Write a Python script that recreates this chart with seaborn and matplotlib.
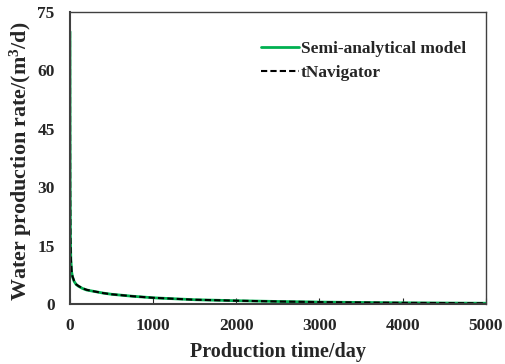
import matplotlib
matplotlib.use("Agg")
import matplotlib.pyplot as plt
import seaborn as sns
import pandas as pd

# Water production rate over time: semi-analytical model vs tNavigator
time_days = [0, 1, 2, 5, 10, 20, 30, 50, 75, 100, 150, 200, 300, 400, 500,
             750, 1000, 1500, 2000, 2500, 3000, 3500, 4000, 4500, 5000]
rate_model = [70.0, 45.0, 30.0, 17.0, 11.5, 8.2, 7.0, 5.8, 5.0, 4.6, 4.0, 3.6,
              3.2, 2.8, 2.5, 2.0, 1.6, 1.1, 0.85, 0.65, 0.5, 0.4, 0.3, 0.25, 0.2]
rate_tnav = [70.0, 44.5, 29.8, 17.2, 11.7, 8.3, 7.1, 5.9, 5.05, 4.65, 4.05, 3.65,
             3.2, 2.8, 2.5, 2.0, 1.6, 1.1, 0.85, 0.65, 0.5, 0.4, 0.3, 0.25, 0.2]

sns.set_theme(style="ticks")
plt.rcParams["font.family"] = ["Liberation Serif", "DejaVu Serif"]
plt.rcParams["font.weight"] = "bold"
plt.rcParams["mathtext.fontset"] = "custom"
plt.rcParams["mathtext.rm"] = "Liberation Serif:bold"
plt.rcParams["mathtext.bf"] = "Liberation Serif:bold"
plt.rcParams["mathtext.it"] = "Liberation Serif:bold"

df = pd.DataFrame({"t": time_days, "model": rate_model, "tnav": rate_tnav})

fig = plt.figure(figsize=(5.05, 3.64), dpi=100)
ax = fig.add_axes([0.1386, 0.1648, 0.8234, 0.802])

sns.lineplot(data=df, x="t", y="model", ax=ax, color="#00b050", lw=2.0,
             label="Semi-analytical model")
sns.lineplot(data=df, x="t", y="tnav", ax=ax, color="black", lw=1.5,
             linestyle=(0, (3, 1.5)), label="tNavigator")

ax.set_xlim(0, 5000)
ax.set_ylim(0, 75)
ax.set_xticks([0, 1000, 2000, 3000, 4000, 5000])
ax.set_yticks([0, 15, 30, 45, 60, 75])
ax.tick_params(axis="x", direction="in", length=4, width=0.8, labelsize=12.5, pad=10)
ax.tick_params(axis="y", direction="in", length=0, labelsize=12.5, pad=11)
for lbl in ax.get_xticklabels() + ax.get_yticklabels():
    lbl.set_fontweight("bold")

ax.set_xlabel("Production time/day", fontsize=14.5, fontweight="bold", labelpad=6)
ax.set_ylabel("Water production rate/(m$^{3}$/d)", fontsize=15.8,
              fontweight="bold")
ax.yaxis.set_label_coords(-0.087, 0.49)

for name, sp in ax.spines.items():
    sp.set_color("#404040")
    sp.set_linewidth(1.5 if name in ("left", "bottom") else 1.0)

leg = ax.legend(loc="upper right", frameon=False, fontsize=12.5,
                handlelength=2.2, handletextpad=0.1, labelspacing=0.45,
                bbox_to_anchor=(0.99, 0.955))
for txt in leg.get_texts():
    txt.set_fontweight("bold")

fig.savefig("out.png", dpi=100)
